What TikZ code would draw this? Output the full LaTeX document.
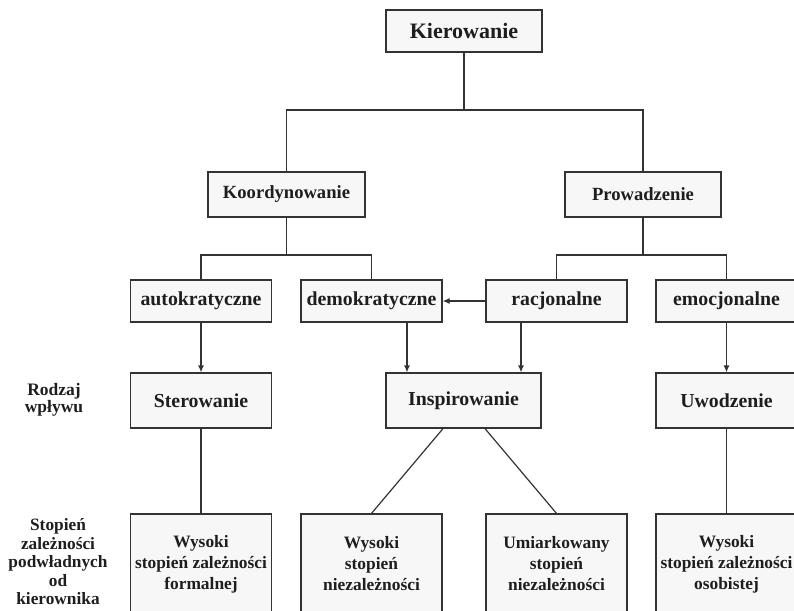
\documentclass[tikz,border=0pt]{standalone}
\usepackage{fontspec}
\setmainfont{Liberation Serif}
\usetikzlibrary{arrows.meta}
\definecolor{boxfill}{HTML}{F7F7F7}
\definecolor{linec}{HTML}{333333}
\definecolor{textc}{HTML}{1E1E1E}
\tikzset{
  box/.style={draw=linec, line width=1.2pt, fill=boxfill, text=textc, font=\bfseries, inner sep=0pt, align=center},
  conn/.style={draw=linec, line width=1.2pt},
  arr/.style={conn, -{Latex[length=7pt,width=6pt]}},
  lbl/.style={text=textc, align=center, inner sep=0pt}
}
\begin{document}
\begin{tikzpicture}[x=1pt,y=-1pt]
\useasboundingbox (0,0) rectangle (794,610);
\clip (0,0) rectangle (794,610);
% row 1
\node[box, minimum width=156pt, minimum height=42pt, font=\bfseries\fontsize{22}{26}\selectfont] (kier) at (464,31) {Kierowanie};
% row 2
\node[box, minimum width=157pt, minimum height=45pt, font=\bfseries\fontsize{18.6}{22}\selectfont] (koord) at (286.5,194.5) {Koordynowanie};
\node[box, minimum width=156pt, minimum height=45pt, font=\bfseries\fontsize{18.6}{22}\selectfont] (prow) at (643,194.5) {Prowadzenie};
% row 3
\tikzset{r3/.style={box, minimum width=141pt, minimum height=42pt, font=\bfseries\fontsize{19.8}{23}\selectfont}}
\node[r3] (auto) at (201,301) {autokratyczne};
\node[r3] (demo) at (371.5,301) {demokratyczne};
\node[r3] (racj) at (556.5,301) {racjonalne};
\node[r3] (emoc) at (726.5,301) {emocjonalne};
% row 4
\tikzset{r4/.style={box, minimum width=141pt, minimum height=55pt, font=\bfseries\fontsize{19.8}{23}\selectfont}}
\node[r4] (ster) at (201,400.5) {Sterowanie};
\node[r4, minimum width=155pt] (insp) at (463.5,400.5) {Inspirowanie};
\node[r4] (uwod) at (726.5,400.5) {Uwodzenie};
% row 5
\tikzset{r5/.style={box, minimum width=141pt, minimum height=100pt, font=\bfseries\fontsize{17.4}{21}\selectfont}}
\node[r5] (b1) at (201,564) {Wysoki\\stopień zależności\\formalnej};
\node[r5] (b2) at (371.5,564) {Wysoki\\stopień\\niezależności};
\node[r5] (b3) at (556.5,564) {Umiarkowany\\stopień\\niezależności};
\node[r5] (b4) at (726.5,564) {Wysoki\\stopień zależności\\osobistej};
% side labels
\node[lbl, font=\bfseries\fontsize{17.5}{15}\selectfont] (rodz) at (54,400) {Rodzaj\\wpływu};
\node[lbl, font=\bfseries\fontsize{17.3}{18.5}\selectfont] (stop) at (58,562) {Stopień\\zależności\\podwładnych\\od\\kierownika};
% connectors
\coordinate (t1) at (464,110);
\coordinate (t2) at (286.5,255);
\coordinate (t3) at (641.5,255);
\draw[conn] (kier.south) -- (t1);
\draw[conn] (koord.north) |- (t1) -| (prow.north);
\draw[conn] (koord.south) -- (t2);
\draw[conn] (auto.north) |- (t2) -| (demo.north);
\draw[conn] (prow.south) -- (prow.south |- t3);
\draw[conn] (racj.north) |- (t3) -| (emoc.north);
\draw[arr] (racj.west) -- (demo.east);
\draw[arr] (auto.south) -- (ster.north);
\draw[arr] ([xshift=35.5pt]demo.south) -- ([xshift=35.5pt]demo.south |- insp.north);
\draw[arr] ([xshift=-35.5pt]racj.south) -- ([xshift=-35.5pt]racj.south |- insp.north);
\draw[arr] (emoc.south) -- (uwod.north);
\draw[conn] (ster.south) -- (b1.north);
\draw[conn] ([xshift=-20.5pt]insp.south) -- (b2.north);
\draw[conn] ([xshift=21.5pt]insp.south) -- (b3.north);
\draw[conn] (uwod.south) -- (b4.north);
\end{tikzpicture}
\end{document}
